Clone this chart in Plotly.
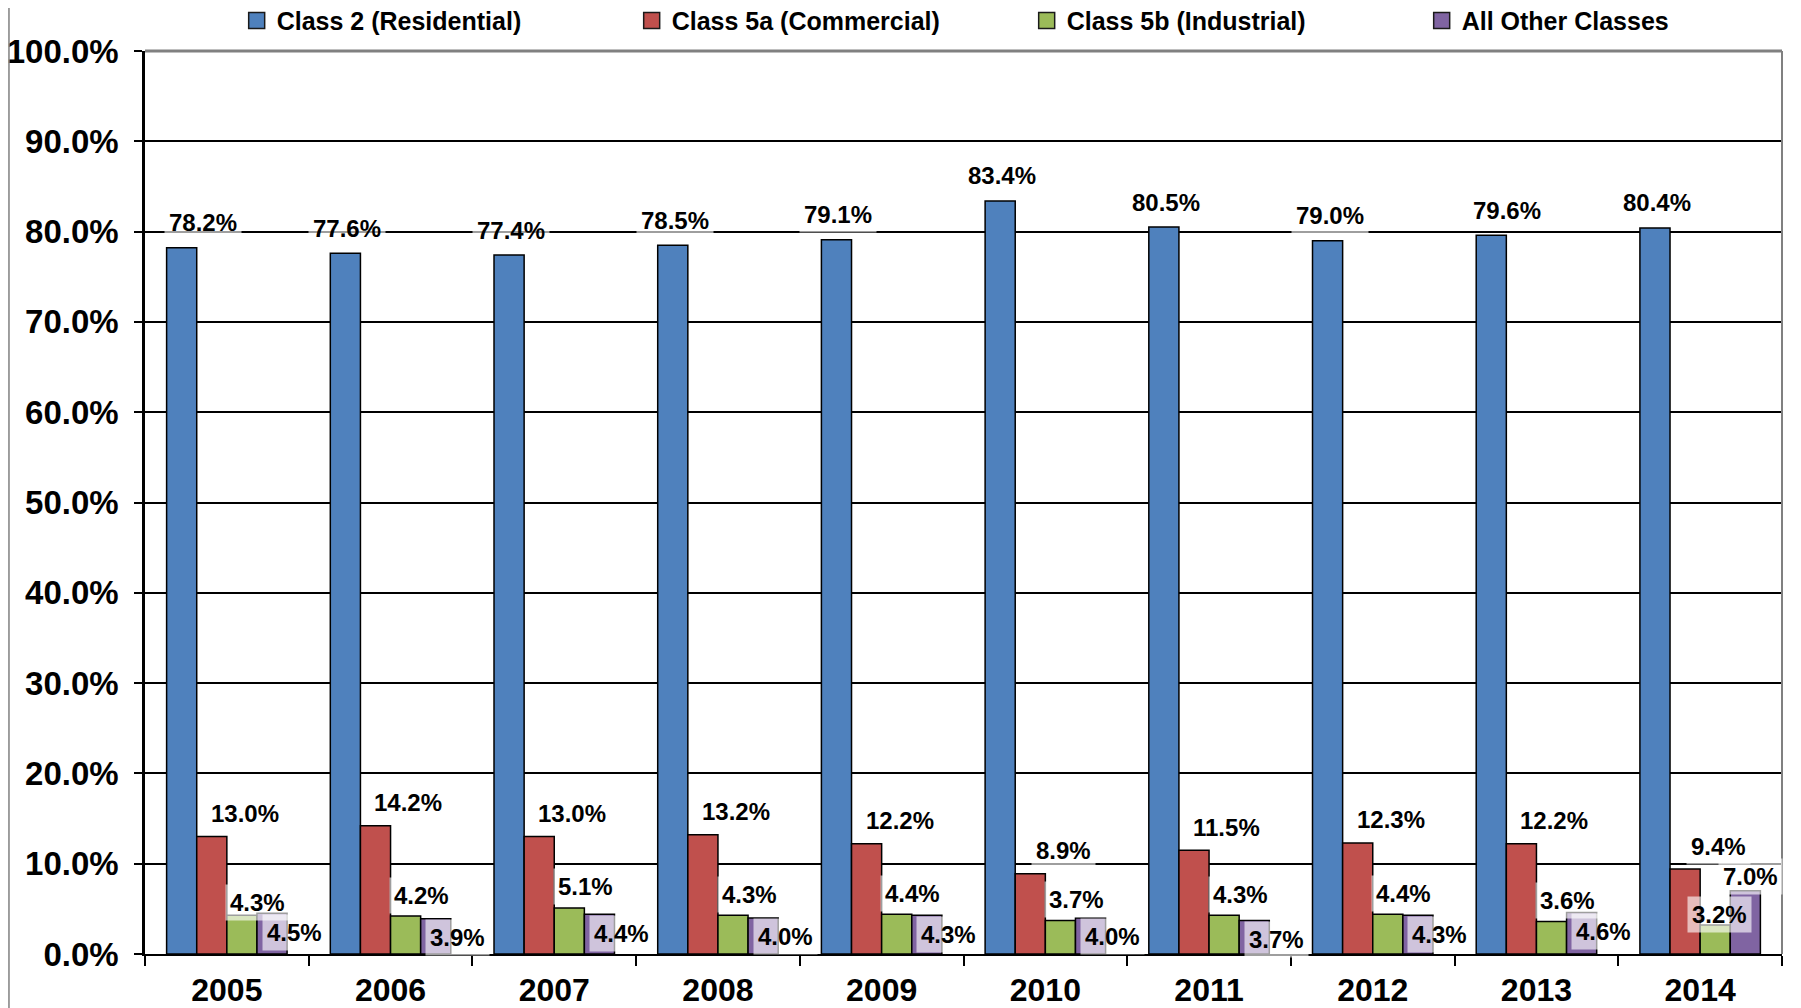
import plotly.graph_objects as go

years = ["2005", "2006", "2007", "2008", "2009", "2010", "2011", "2012", "2013", "2014"]
residential = [78.2, 77.6, 77.4, 78.5, 79.1, 83.4, 80.5, 79.0, 79.6, 80.4]
commercial = [13.0, 14.2, 13.0, 13.2, 12.2, 8.9, 11.5, 12.3, 12.2, 9.4]
industrial = [4.3, 4.2, 5.1, 4.3, 4.4, 3.7, 4.3, 4.4, 3.6, 3.2]
other = [4.5, 3.9, 4.4, 4.0, 4.3, 4.0, 3.7, 4.3, 4.6, 7.0]

series_names = ["Class 2 (Residential)", "Class 5a (Commercial)",
                "Class 5b (Industrial)", "All Other Classes"]
series_values = [residential, commercial, industrial, other]
colors = ["#4F81BD", "#C0504D", "#9BBB59", "#8064A2"]

# label placement style (pixel nudges), per series, plus a few manual nudges
label_shift = [(2, 25), (33, 23), (16, 21), (22, -19)]
label_override = {(0, 0): (21, 25), (0, 8): (16, 25), (2, 0): (16, 13),
                  (2, 9): (4, 11), (3, 9): (5, 14)}

FONT = "Liberation Sans, Arial, sans-serif"
bargap = 0.264

fig = go.Figure()
for name, vals, col in zip(series_names, series_values, colors):
    fig.add_trace(go.Bar(
        x=years, y=vals, name=name, showlegend=False,
        marker=dict(color=col, line=dict(color="#000000", width=1.5)),
    ))
    fig.add_trace(go.Scatter(
        x=[None], y=[None], mode="markers", name=name,
        marker=dict(symbol="square", size=16, color=col,
                    line=dict(color="#1a1a1a", width=1.5)),
    ))

bw = (1 - bargap) / 4
annotations = []
for s, vals in enumerate(series_values):
    off = (s - 1.5) * bw
    for i, v in enumerate(vals):
        dx, dy = label_override.get((s, i), label_shift[s])
        annotations.append(dict(
            x=i + off, y=v, xref="x", yref="y", text=f"{v:.1f}%",
            showarrow=False, xanchor="center", yanchor="middle",
            xshift=dx, yshift=dy,
            font=dict(family=FONT, size=24, color="#000000", weight=700),
            bgcolor="rgba(255,255,255,0.62)", borderpad=4,
        ))

fig.update_layout(
    width=1793, height=1000,
    margin=dict(l=137, r=19, t=43, b=54, autoexpand=False),
    paper_bgcolor="#FFFFFF", plot_bgcolor="#FFFFFF",
    barmode="group", bargap=bargap, bargroupgap=0,
    font=dict(family=FONT, color="#000000"),
    legend=dict(
        orientation="h", x=0.056, xref="paper", xanchor="left",
        y=1.0335, yref="paper", yanchor="middle",
        font=dict(family=FONT, size=25, color="#000000", weight=700),
        entrywidth=350, entrywidthmode="pixels",
        bgcolor="rgba(0,0,0,0)", itemwidth=30,
    ),
    annotations=annotations,
    shapes=[
        dict(type="line", xref="paper", yref="paper", x0=0, x1=1, y0=1, y1=1,
             line=dict(color="#808080", width=3), layer="above"),
        dict(type="line", xref="paper", yref="paper", x0=1, x1=1, y0=0, y1=1,
             line=dict(color="#808080", width=2), layer="above"),
        dict(type="line", xref="paper", yref="paper",
             x0=-0.0831, x1=-0.0831, y0=-0.06, y1=1.06,
             line=dict(color="#808080", width=1.5), layer="above"),
    ],
)

fig.update_xaxes(
    type="category", showgrid=False, showline=True, linecolor="#000000",
    linewidth=2, ticks="outside", tickson="boundaries", ticklen=10,
    tickwidth=2, tickcolor="#000000", ticklabelstandoff=7, automargin=False,
    tickfont=dict(family=FONT, size=32, color="#000000", weight=700),
    range=[-0.5, 9.5],
)
fig.update_yaxes(
    range=[0, 100], dtick=10, tickformat=".1f", ticksuffix="%",
    showgrid=True, gridcolor="#000000", gridwidth=1.5,
    showline=True, linecolor="#000000", linewidth=2.5,
    ticks="outside", ticklen=8, tickwidth=2, tickcolor="#000000",
    ticklabelstandoff=9, zeroline=False, automargin=False,
    tickfont=dict(family=FONT, size=33, color="#000000", weight=700),
)

fig.write_html("out.html")
